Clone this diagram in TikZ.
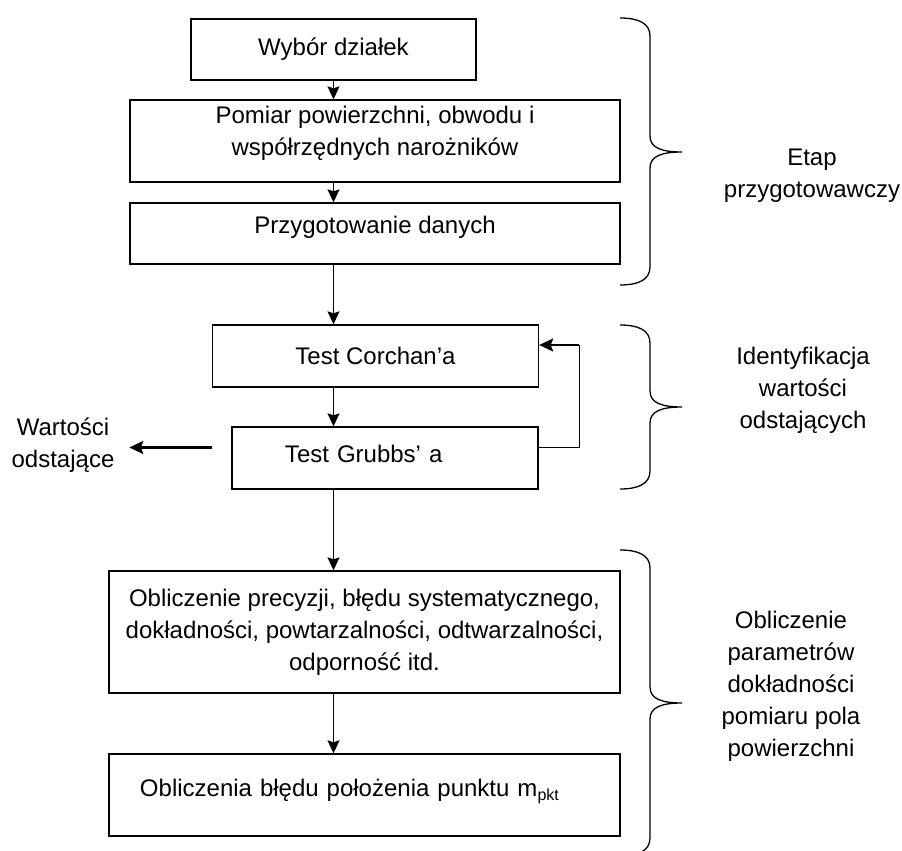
\documentclass[tikz,border=0pt]{standalone}
\usepackage{fontspec}
\setmainfont{Liberation Sans}
\usetikzlibrary{arrows.meta}

\begin{document}
\begin{tikzpicture}[
    x=0.5pt, y=-0.5pt,
    font=\fontsize{12}{16}\selectfont,
    krok/.style={draw, line width=0.65pt, align=center, inner sep=0pt},
    opis/.style={align=center, inner sep=0pt},
    linia/.style={line width=0.65pt},
    strz/.style={-{Stealth[length=6.5pt,width=6pt,inset=1pt]}, line width=0.65pt},
    strzg/.style={-{Stealth[length=7pt,width=6.5pt,inset=1.2pt]}, line width=1.1pt}
  ]
    \useasboundingbox (0,0) rectangle (902,851);

    \node[krok, minimum width=142.5pt, minimum height=30.5pt] (wybor) at (333.5,49.5) {Wybór działek};
    \node[krok, minimum width=245pt, minimum height=41pt, text depth=10.5pt] (pomiar) at (375,141)
        {Pomiar powierzchni, obwodu i\\współrzędnych narożników};
    \node[krok, minimum width=245pt, minimum height=30.5pt, text depth=8.5pt] (dane) at (375,233.5) {Przygotowanie danych};

    \node[krok, minimum width=163pt, minimum height=31pt] (cochran) at (375.5,356) {Test Corchan’a};
    \node[krok, minimum height=31pt, text width=100pt, align=left, inner xsep=26.5pt, text depth=4pt] (grubbs) at (385,458)
        {Test Grubbs’ a};
    \node[opis] (odst) at (63,445) {Wartości\\odstające};

    \node[krok, minimum width=255.5pt, minimum height=61pt] (oblicz) at (364.5,632)
        {Obliczenie precyzji, błędu systematycznego,\\dokładności, powtarzalności, odtwarzalności,\\odporność itd.};
    \node[krok, minimum height=41pt, text width=224.5pt, align=left, inner xsep=15.5pt, text depth=7pt] (mpkt) at (364.5,795)
        {Obliczenia błędu położenia punktu m\textsubscript{pkt}};

    \node[opis] (etap) at (812,176) {Etap\\przygotowawczy};
    \node[opis] (ident) at (803,390) {Identyfikacja\\wartości\\odstających};
    \node[opis] (param) at (791,686) {Obliczenie\\parametrów\\dokładności\\pomiaru pola\\powierzchni};

    % strzalki
    \draw[strz] (wybor.south) -- (pomiar.north -| wybor.south);
    \draw[strz] (pomiar.south -| wybor.south) -- (dane.north -| wybor.south);
    \draw[strz] (dane.south -| wybor.south) -- (cochran.north -| wybor.south);
    \draw[strz] (cochran.south -| wybor.south) -- (grubbs.north -| wybor.south);
    \draw[strz] (grubbs.south -| wybor.south) -- (oblicz.north -| wybor.south);
    \draw[strz] (oblicz.south -| wybor.south) -- (mpkt.north -| wybor.south);

    \draw[linia] ([yshift=5.25pt]grubbs.east) -| ([xshift=20pt,yshift=5.5pt]cochran.east);
    \draw[strzg] ([xshift=20pt,yshift=5.5pt]cochran.east) -- ([yshift=5.5pt]cochran.east);
    \draw[strzg, shorten <=9.5pt, shorten >=7.25pt] ([yshift=5.25pt]grubbs.west) -- ([yshift=5.25pt]grubbs.west -| odst.east);

    % klamry
    \foreach \t/\m/\b in {18/152/285, 325/407/489, 550/703/856}
      \draw[linia] (620,\t) .. controls (638,\t) and (650,\t+5) .. (650,\t+18) -- (650,\m-16)
        .. controls (650,\m-4) and (662,\m) .. (682,\m)
        .. controls (662,\m) and (650,\m+4) .. (650,\m+16) -- (650,\b-18)
        .. controls (650,\b-5) and (638,\b) .. (620,\b);
\end{tikzpicture}
\end{document}
